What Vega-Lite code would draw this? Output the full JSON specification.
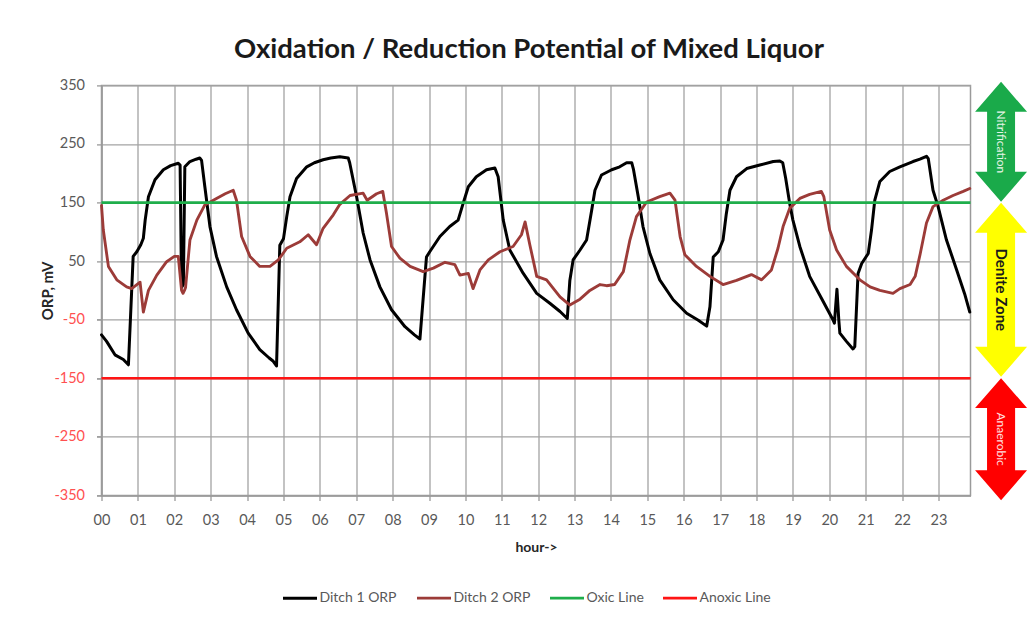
{
  "$schema": "https://vega.github.io/schema/vega-lite/v6.json",
  "width": 869,
  "height": 410,
  "autosize": "none",
  "padding": {"left": 101.5, "top": 85.4, "right": 65.5, "bottom": 121.6},
  "background": "white",
  "title": {"text": "Oxidation / Reduction Potential of Mixed Liquor", "font": "Lato", "fontSize": 27.5, "fontWeight": "bold", "color": "#1a1a1a", "anchor": "middle", "offset": 14, "dx": -7},
  "config": {
    "view": {"stroke": "#9a9a9a", "strokeWidth": 1.5},
    "axis": {"gridColor": "#a3a3a3", "gridWidth": 1.3, "domainColor": "#9a9a9a", "domainWidth": 1.5, "tickColor": "#9a9a9a", "tickWidth": 1.3, "tickSize": 5, "labelFont": "Lato", "labelFontSize": 14.5, "titleFont": "Lato", "titleFontWeight": "bold", "titleFontSize": 14, "titleColor": "#262626"},
    "legend": {"labelFont": "Lato", "labelFontSize": 14, "labelColor": "#595959"}
  },
  "resolve": {"axis": {"y": "independent"}},
  "encoding": {
    "x": {"type": "quantitative", "scale": {"domain": [0, 23.88], "nice": false, "zero": false},
          "axis": {"title": "hour->", "values": [0,1,2,3,4,5,6,7,8,9,10,11,12,13,14,15,16,17,18,19,20,21,22,23], "format": "02d", "labelColor": "#595959", "labelPadding": 13, "titlePadding": 14, "labelFlush": false}}
  },
  "layer": [
    {
      "data": {"values": [
        {"h":0.00,"s":"Ditch 1 ORP","v":-76},{"h":0.14,"s":"Ditch 1 ORP","v":-87},{"h":0.37,"s":"Ditch 1 ORP","v":-110},{"h":0.60,"s":"Ditch 1 ORP","v":-118},{"h":0.74,"s":"Ditch 1 ORP","v":-127},{"h":0.87,"s":"Ditch 1 ORP","v":58},{"h":0.97,"s":"Ditch 1 ORP","v":66},{"h":1.08,"s":"Ditch 1 ORP","v":78},{"h":1.15,"s":"Ditch 1 ORP","v":89},{"h":1.20,"s":"Ditch 1 ORP","v":120},{"h":1.29,"s":"Ditch 1 ORP","v":160},{"h":1.47,"s":"Ditch 1 ORP","v":189},{"h":1.70,"s":"Ditch 1 ORP","v":206},{"h":1.90,"s":"Ditch 1 ORP","v":213},{"h":2.11,"s":"Ditch 1 ORP","v":217},{"h":2.16,"s":"Ditch 1 ORP","v":214},{"h":2.20,"s":"Ditch 1 ORP","v":5},{"h":2.25,"s":"Ditch 1 ORP","v":10},{"h":2.29,"s":"Ditch 1 ORP","v":211},{"h":2.43,"s":"Ditch 1 ORP","v":220},{"h":2.60,"s":"Ditch 1 ORP","v":224},{"h":2.70,"s":"Ditch 1 ORP","v":226},{"h":2.75,"s":"Ditch 1 ORP","v":222},{"h":2.84,"s":"Ditch 1 ORP","v":177},{"h":2.98,"s":"Ditch 1 ORP","v":109},{"h":3.16,"s":"Ditch 1 ORP","v":58},{"h":3.44,"s":"Ditch 1 ORP","v":6},{"h":3.71,"s":"Ditch 1 ORP","v":-33},{"h":4.03,"s":"Ditch 1 ORP","v":-73},{"h":4.35,"s":"Ditch 1 ORP","v":-101},{"h":4.60,"s":"Ditch 1 ORP","v":-115},{"h":4.72,"s":"Ditch 1 ORP","v":-121},{"h":4.81,"s":"Ditch 1 ORP","v":-129},{"h":4.90,"s":"Ditch 1 ORP","v":77},{"h":5.00,"s":"Ditch 1 ORP","v":88},{"h":5.09,"s":"Ditch 1 ORP","v":126},{"h":5.18,"s":"Ditch 1 ORP","v":160},{"h":5.36,"s":"Ditch 1 ORP","v":191},{"h":5.64,"s":"Ditch 1 ORP","v":211},{"h":5.85,"s":"Ditch 1 ORP","v":218},{"h":6.09,"s":"Ditch 1 ORP","v":223},{"h":6.30,"s":"Ditch 1 ORP","v":226},{"h":6.55,"s":"Ditch 1 ORP","v":228},{"h":6.78,"s":"Ditch 1 ORP","v":226},{"h":6.82,"s":"Ditch 1 ORP","v":218},{"h":7.01,"s":"Ditch 1 ORP","v":160},{"h":7.19,"s":"Ditch 1 ORP","v":98},{"h":7.38,"s":"Ditch 1 ORP","v":52},{"h":7.65,"s":"Ditch 1 ORP","v":6},{"h":7.97,"s":"Ditch 1 ORP","v":-33},{"h":8.34,"s":"Ditch 1 ORP","v":-62},{"h":8.60,"s":"Ditch 1 ORP","v":-76},{"h":8.75,"s":"Ditch 1 ORP","v":-83},{"h":8.93,"s":"Ditch 1 ORP","v":57},{"h":9.02,"s":"Ditch 1 ORP","v":66},{"h":9.30,"s":"Ditch 1 ORP","v":92},{"h":9.57,"s":"Ditch 1 ORP","v":109},{"h":9.80,"s":"Ditch 1 ORP","v":120},{"h":9.94,"s":"Ditch 1 ORP","v":149},{"h":10.08,"s":"Ditch 1 ORP","v":177},{"h":10.30,"s":"Ditch 1 ORP","v":194},{"h":10.58,"s":"Ditch 1 ORP","v":206},{"h":10.81,"s":"Ditch 1 ORP","v":209},{"h":10.90,"s":"Ditch 1 ORP","v":194},{"h":11.04,"s":"Ditch 1 ORP","v":120},{"h":11.22,"s":"Ditch 1 ORP","v":69},{"h":11.59,"s":"Ditch 1 ORP","v":29},{"h":11.96,"s":"Ditch 1 ORP","v":-5},{"h":12.32,"s":"Ditch 1 ORP","v":-22},{"h":12.60,"s":"Ditch 1 ORP","v":-36},{"h":12.80,"s":"Ditch 1 ORP","v":-48},{"h":12.87,"s":"Ditch 1 ORP","v":17},{"h":12.96,"s":"Ditch 1 ORP","v":52},{"h":13.15,"s":"Ditch 1 ORP","v":69},{"h":13.33,"s":"Ditch 1 ORP","v":86},{"h":13.47,"s":"Ditch 1 ORP","v":137},{"h":13.56,"s":"Ditch 1 ORP","v":171},{"h":13.74,"s":"Ditch 1 ORP","v":197},{"h":14.02,"s":"Ditch 1 ORP","v":206},{"h":14.24,"s":"Ditch 1 ORP","v":211},{"h":14.43,"s":"Ditch 1 ORP","v":218},{"h":14.57,"s":"Ditch 1 ORP","v":218},{"h":14.62,"s":"Ditch 1 ORP","v":206},{"h":14.75,"s":"Ditch 1 ORP","v":160},{"h":14.88,"s":"Ditch 1 ORP","v":109},{"h":15.07,"s":"Ditch 1 ORP","v":63},{"h":15.34,"s":"Ditch 1 ORP","v":18},{"h":15.71,"s":"Ditch 1 ORP","v":-16},{"h":16.08,"s":"Ditch 1 ORP","v":-39},{"h":16.40,"s":"Ditch 1 ORP","v":-51},{"h":16.63,"s":"Ditch 1 ORP","v":-61},{"h":16.72,"s":"Ditch 1 ORP","v":-28},{"h":16.81,"s":"Ditch 1 ORP","v":57},{"h":16.95,"s":"Ditch 1 ORP","v":66},{"h":17.08,"s":"Ditch 1 ORP","v":86},{"h":17.17,"s":"Ditch 1 ORP","v":131},{"h":17.27,"s":"Ditch 1 ORP","v":171},{"h":17.45,"s":"Ditch 1 ORP","v":194},{"h":17.73,"s":"Ditch 1 ORP","v":208},{"h":18.09,"s":"Ditch 1 ORP","v":214},{"h":18.46,"s":"Ditch 1 ORP","v":220},{"h":18.64,"s":"Ditch 1 ORP","v":221},{"h":18.72,"s":"Ditch 1 ORP","v":218},{"h":18.80,"s":"Ditch 1 ORP","v":192},{"h":18.91,"s":"Ditch 1 ORP","v":149},{"h":19.00,"s":"Ditch 1 ORP","v":120},{"h":19.19,"s":"Ditch 1 ORP","v":75},{"h":19.46,"s":"Ditch 1 ORP","v":24},{"h":19.78,"s":"Ditch 1 ORP","v":-13},{"h":20.10,"s":"Ditch 1 ORP","v":-50},{"h":20.14,"s":"Ditch 1 ORP","v":-56},{"h":20.21,"s":"Ditch 1 ORP","v":2},{"h":20.26,"s":"Ditch 1 ORP","v":-50},{"h":20.29,"s":"Ditch 1 ORP","v":-73},{"h":20.47,"s":"Ditch 1 ORP","v":-87},{"h":20.65,"s":"Ditch 1 ORP","v":-100},{"h":20.70,"s":"Ditch 1 ORP","v":-96},{"h":20.79,"s":"Ditch 1 ORP","v":29},{"h":20.89,"s":"Ditch 1 ORP","v":46},{"h":21.07,"s":"Ditch 1 ORP","v":63},{"h":21.16,"s":"Ditch 1 ORP","v":103},{"h":21.25,"s":"Ditch 1 ORP","v":154},{"h":21.39,"s":"Ditch 1 ORP","v":186},{"h":21.66,"s":"Ditch 1 ORP","v":203},{"h":21.94,"s":"Ditch 1 ORP","v":211},{"h":22.30,"s":"Ditch 1 ORP","v":220},{"h":22.49,"s":"Ditch 1 ORP","v":224},{"h":22.67,"s":"Ditch 1 ORP","v":229},{"h":22.72,"s":"Ditch 1 ORP","v":225},{"h":22.85,"s":"Ditch 1 ORP","v":171},{"h":22.99,"s":"Ditch 1 ORP","v":143},{"h":23.22,"s":"Ditch 1 ORP","v":86},{"h":23.50,"s":"Ditch 1 ORP","v":35},{"h":23.72,"s":"Ditch 1 ORP","v":-6},{"h":23.86,"s":"Ditch 1 ORP","v":-37},
        {"h":0.00,"s":"Ditch 2 ORP","v":145},{"h":0.05,"s":"Ditch 2 ORP","v":103},{"h":0.19,"s":"Ditch 2 ORP","v":41},{"h":0.42,"s":"Ditch 2 ORP","v":18},{"h":0.69,"s":"Ditch 2 ORP","v":6},{"h":0.83,"s":"Ditch 2 ORP","v":3},{"h":1.06,"s":"Ditch 2 ORP","v":14},{"h":1.15,"s":"Ditch 2 ORP","v":-37},{"h":1.29,"s":"Ditch 2 ORP","v":0},{"h":1.52,"s":"Ditch 2 ORP","v":26},{"h":1.79,"s":"Ditch 2 ORP","v":49},{"h":2.00,"s":"Ditch 2 ORP","v":58},{"h":2.11,"s":"Ditch 2 ORP","v":58},{"h":2.20,"s":"Ditch 2 ORP","v":0},{"h":2.24,"s":"Ditch 2 ORP","v":-5},{"h":2.28,"s":"Ditch 2 ORP","v":0},{"h":2.31,"s":"Ditch 2 ORP","v":5},{"h":2.43,"s":"Ditch 2 ORP","v":86},{"h":2.62,"s":"Ditch 2 ORP","v":120},{"h":2.84,"s":"Ditch 2 ORP","v":146},{"h":3.16,"s":"Ditch 2 ORP","v":157},{"h":3.40,"s":"Ditch 2 ORP","v":165},{"h":3.62,"s":"Ditch 2 ORP","v":171},{"h":3.71,"s":"Ditch 2 ORP","v":154},{"h":3.85,"s":"Ditch 2 ORP","v":92},{"h":4.08,"s":"Ditch 2 ORP","v":58},{"h":4.35,"s":"Ditch 2 ORP","v":41},{"h":4.63,"s":"Ditch 2 ORP","v":41},{"h":4.86,"s":"Ditch 2 ORP","v":52},{"h":5.09,"s":"Ditch 2 ORP","v":72},{"h":5.45,"s":"Ditch 2 ORP","v":83},{"h":5.68,"s":"Ditch 2 ORP","v":95},{"h":5.91,"s":"Ditch 2 ORP","v":78},{"h":6.09,"s":"Ditch 2 ORP","v":106},{"h":6.37,"s":"Ditch 2 ORP","v":129},{"h":6.55,"s":"Ditch 2 ORP","v":147},{"h":6.83,"s":"Ditch 2 ORP","v":162},{"h":7.19,"s":"Ditch 2 ORP","v":166},{"h":7.30,"s":"Ditch 2 ORP","v":154},{"h":7.56,"s":"Ditch 2 ORP","v":165},{"h":7.73,"s":"Ditch 2 ORP","v":169},{"h":7.83,"s":"Ditch 2 ORP","v":132},{"h":7.97,"s":"Ditch 2 ORP","v":75},{"h":8.20,"s":"Ditch 2 ORP","v":55},{"h":8.48,"s":"Ditch 2 ORP","v":41},{"h":8.84,"s":"Ditch 2 ORP","v":32},{"h":9.12,"s":"Ditch 2 ORP","v":38},{"h":9.44,"s":"Ditch 2 ORP","v":48},{"h":9.71,"s":"Ditch 2 ORP","v":44},{"h":9.85,"s":"Ditch 2 ORP","v":26},{"h":10.08,"s":"Ditch 2 ORP","v":29},{"h":10.21,"s":"Ditch 2 ORP","v":3},{"h":10.40,"s":"Ditch 2 ORP","v":35},{"h":10.63,"s":"Ditch 2 ORP","v":52},{"h":10.95,"s":"Ditch 2 ORP","v":66},{"h":11.31,"s":"Ditch 2 ORP","v":75},{"h":11.54,"s":"Ditch 2 ORP","v":95},{"h":11.64,"s":"Ditch 2 ORP","v":117},{"h":11.77,"s":"Ditch 2 ORP","v":78},{"h":11.96,"s":"Ditch 2 ORP","v":24},{"h":12.23,"s":"Ditch 2 ORP","v":18},{"h":12.60,"s":"Ditch 2 ORP","v":-11},{"h":12.87,"s":"Ditch 2 ORP","v":-25},{"h":13.15,"s":"Ditch 2 ORP","v":-15},{"h":13.42,"s":"Ditch 2 ORP","v":0},{"h":13.70,"s":"Ditch 2 ORP","v":10},{"h":13.88,"s":"Ditch 2 ORP","v":8},{"h":14.10,"s":"Ditch 2 ORP","v":10},{"h":14.34,"s":"Ditch 2 ORP","v":32},{"h":14.52,"s":"Ditch 2 ORP","v":86},{"h":14.70,"s":"Ditch 2 ORP","v":126},{"h":14.98,"s":"Ditch 2 ORP","v":151},{"h":15.34,"s":"Ditch 2 ORP","v":160},{"h":15.62,"s":"Ditch 2 ORP","v":166},{"h":15.76,"s":"Ditch 2 ORP","v":154},{"h":15.90,"s":"Ditch 2 ORP","v":92},{"h":16.03,"s":"Ditch 2 ORP","v":61},{"h":16.35,"s":"Ditch 2 ORP","v":41},{"h":16.72,"s":"Ditch 2 ORP","v":24},{"h":17.08,"s":"Ditch 2 ORP","v":10},{"h":17.45,"s":"Ditch 2 ORP","v":17},{"h":17.86,"s":"Ditch 2 ORP","v":27},{"h":18.14,"s":"Ditch 2 ORP","v":18},{"h":18.41,"s":"Ditch 2 ORP","v":35},{"h":18.59,"s":"Ditch 2 ORP","v":72},{"h":18.73,"s":"Ditch 2 ORP","v":109},{"h":18.91,"s":"Ditch 2 ORP","v":140},{"h":19.19,"s":"Ditch 2 ORP","v":157},{"h":19.46,"s":"Ditch 2 ORP","v":164},{"h":19.78,"s":"Ditch 2 ORP","v":169},{"h":19.85,"s":"Ditch 2 ORP","v":160},{"h":20.01,"s":"Ditch 2 ORP","v":103},{"h":20.20,"s":"Ditch 2 ORP","v":69},{"h":20.47,"s":"Ditch 2 ORP","v":41},{"h":20.84,"s":"Ditch 2 ORP","v":18},{"h":21.12,"s":"Ditch 2 ORP","v":6},{"h":21.39,"s":"Ditch 2 ORP","v":0},{"h":21.75,"s":"Ditch 2 ORP","v":-5},{"h":21.94,"s":"Ditch 2 ORP","v":3},{"h":22.22,"s":"Ditch 2 ORP","v":10},{"h":22.36,"s":"Ditch 2 ORP","v":24},{"h":22.50,"s":"Ditch 2 ORP","v":63},{"h":22.67,"s":"Ditch 2 ORP","v":115},{"h":22.85,"s":"Ditch 2 ORP","v":143},{"h":23.13,"s":"Ditch 2 ORP","v":154},{"h":23.40,"s":"Ditch 2 ORP","v":162},{"h":23.68,"s":"Ditch 2 ORP","v":169},{"h":23.86,"s":"Ditch 2 ORP","v":174}
      ]},
      "mark": {"type": "line", "strokeJoin": "round", "strokeCap": "round"},
      "encoding": {
        "x": {"field": "h"},
        "y": {"field": "v", "type": "quantitative", "scale": {"domain": [-350, 350], "nice": false},
              "axis": {"title": "ORP, mV", "titleFontSize": 15, "values": [-350,-250,-150,-50,50,150,250,350], "labelExpr": "datum.value < 0 ? '' : '' + datum.value", "labelColor": "#595959", "labelPadding": 12, "titlePadding": 4}},
        "color": {"field": "s", "type": "nominal",
                  "scale": {"domain": ["Ditch 1 ORP", "Ditch 2 ORP", "Oxic Line", "Anoxic Line"], "range": ["#000000", "#9c3b38", "#1fae4b", "#ff1414"]},
                  "legend": {"title": null, "orient": "none", "legendX": 180, "legendY": 494, "direction": "horizontal", "symbolType": "stroke", "symbolSize": 1156, "symbolStrokeWidth": 3, "labelOffset": 1, "columnPadding": 13}},
        "strokeWidth": {"field": "s", "type": "nominal", "scale": {"domain": ["Ditch 1 ORP", "Ditch 2 ORP", "Oxic Line", "Anoxic Line"], "range": [3, 2.6, 3.2, 3.2]}, "legend": null}
      }
    },
    {
      "data": {"values": [
        {"h": 0, "s": "Oxic Line", "v": 150}, {"h": 23.88, "s": "Oxic Line", "v": 150},
        {"h": 0, "s": "Anoxic Line", "v": -150}, {"h": 23.88, "s": "Anoxic Line", "v": -150}
      ]},
      "mark": {"type": "line"},
      "encoding": {
        "x": {"field": "h"},
        "y": {"field": "v", "type": "quantitative",
              "axis": {"orient": "left", "title": null, "values": [-350,-250,-150,-50], "labelExpr": "'' + datum.value", "labelColor": "#ff5050", "labelPadding": 12, "grid": false, "domain": false}},
        "color": {"field": "s", "type": "nominal"},
        "strokeWidth": {"field": "s", "type": "nominal", "legend": null}
      }
    },
    {
      "data": {"values": [{"zone": "Nitrification"}]},
      "mark": {"type": "point", "filled": true, "opacity": 1, "fill": "#1aaa4a", "strokeWidth": 0, "size": 14400,
               "shape": "M0,-1 L0.433,-0.5 L0.233,-0.5 L0.233,0.5 L0.433,0.5 L0,1 L-0.433,0.5 L-0.233,0.5 L-0.233,-0.5 L-0.433,-0.5 Z"},
      "encoding": {"x": {"datum": 24.72}, "y": {"datum": 253.6, "type": "quantitative", "axis": null}}
    },
    {
      "data": {"values": [{"zone": "Denite Zone"}]},
      "mark": {"type": "point", "filled": true, "opacity": 1, "fill": "#ffff00", "strokeWidth": 0, "size": 30276,
               "shape": "M0,-1 L0.299,-0.655 L0.161,-0.655 L0.161,0.655 L0.299,0.655 L0,1 L-0.299,0.655 L-0.161,0.655 L-0.161,-0.655 L-0.299,-0.655 Z"},
      "encoding": {"x": {"datum": 24.72}, "y": {"datum": 1, "type": "quantitative", "axis": null}}
    },
    {
      "data": {"values": [{"zone": "Anaerobic"}]},
      "mark": {"type": "point", "filled": true, "opacity": 1, "fill": "#ff0000", "strokeWidth": 0, "size": 14884,
               "shape": "M0,-1 L0.426,-0.51 L0.23,-0.51 L0.23,0.51 L0.426,0.51 L0,1 L-0.426,0.51 L-0.23,0.51 L-0.23,-0.51 L-0.426,-0.51 Z"},
      "encoding": {"x": {"datum": 24.72}, "y": {"datum": -254, "type": "quantitative", "axis": null}}
    },
    {
      "data": {"values": [{"zone": "Nitrification"}]},
      "mark": {"type": "text", "angle": 90, "align": "center", "baseline": "middle", "font": "Lato", "fontSize": 12, "color": "#e8f5e8"},
      "encoding": {"x": {"datum": 24.72}, "y": {"datum": 253.6, "type": "quantitative", "axis": null}, "text": {"field": "zone"}}
    },
    {
      "data": {"values": [{"zone": "Denite Zone"}]},
      "mark": {"type": "text", "angle": 90, "align": "center", "baseline": "middle", "font": "Lato", "fontSize": 15, "fontWeight": "bold", "color": "#1a1a1a"},
      "encoding": {"x": {"datum": 24.72}, "y": {"datum": 1, "type": "quantitative", "axis": null}, "text": {"field": "zone"}}
    },
    {
      "data": {"values": [{"zone": "Anaerobic"}]},
      "mark": {"type": "text", "angle": 90, "align": "center", "baseline": "middle", "font": "Lato", "fontSize": 12, "color": "#ffe0e0"},
      "encoding": {"x": {"datum": 24.72}, "y": {"datum": -254, "type": "quantitative", "axis": null}, "text": {"field": "zone"}}
    }
  ]
}
